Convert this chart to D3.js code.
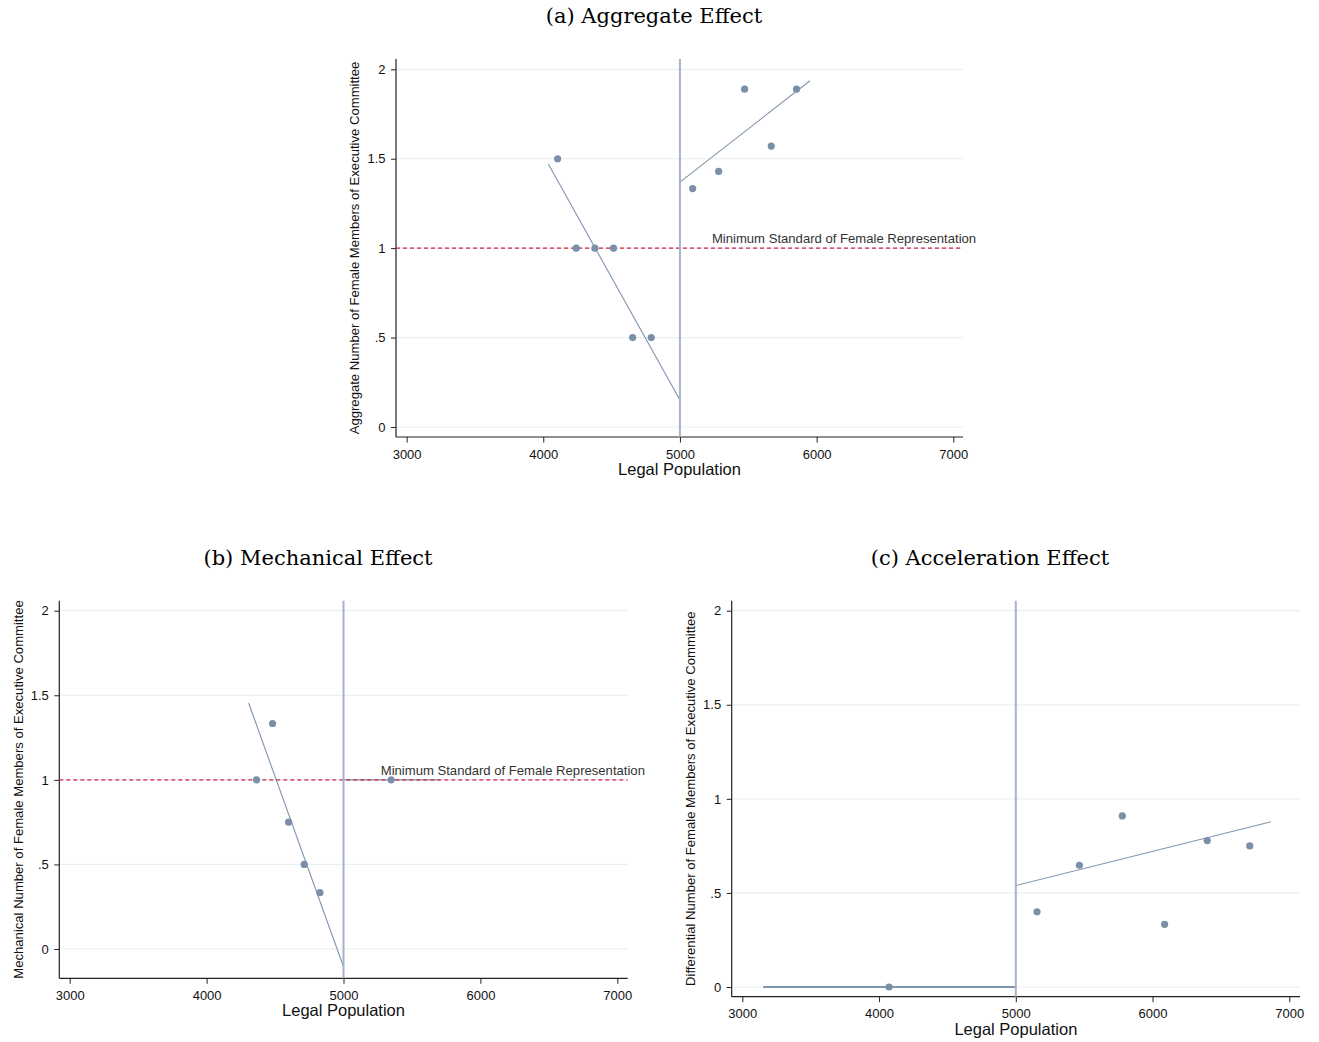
<!DOCTYPE html>
<html><head><meta charset="utf-8">
<script src="https://cdn.jsdelivr.net/npm/d3@7"></script>
<style>body{margin:0;background:#fff}svg{display:block}</style>
</head><body>
<svg id="c" width="1319" height="1042"></svg>
<script>
// ---------- DATA ----------
const xTicks = [3000, 4000, 5000, 6000, 7000];
const yTicks = [0, 0.5, 1, 1.5, 2];
const yTickLabels = ["0", ".5", "1", "1.5", "2"];
const threshold = 5000;
const minStandard = 1;
const refLabel = "Minimum Standard of Female Representation";

// Panel (a) Aggregate
const aggPop = [4105, 4241, 4378, 4514, 4654, 4790, 5093, 5283, 5473, 5668, 5853];
const aggVal = [1.5, 1, 1, 1, 0.5, 0.5, 1.333, 1.429, 1.889, 1.571, 1.889];
const aggFitLeft = [[4037, 1.47], [5000, 0.151]];
const aggFitRight = [[5000, 1.369], [5951, 1.936]];

// Panel (b) Mechanical
const mechPop = [4365, 4482, 4599, 4713, 4828, 5348];
const mechVal = [1, 1.333, 0.75, 0.5, 0.333, 1];
const mechFitLeft = [[4307, 1.454], [5000, -0.105]];
const mechFitRight = [[5000, 1], [5706, 1]];

// Panel (c) Acceleration
const accPop = [4073, 5155, 5465, 5779, 6088, 6400, 6711];
const accVal = [0, 0.40, 0.647, 0.909, 0.333, 0.778, 0.75];
const accFitLeft = [[3152, 0], [5000, 0]];
const accFitRight = [[5000, 0.539], [6866, 0.878]];

const titles = ["(a) Aggregate Effect", "(b) Mechanical Effect", "(c) Acceleration Effect"];
const yLabels = [
  "Aggregate Number of Female Members of Executive Committee",
  "Mechanical Number of Female Members of Executive Committee",
  "Differential Number of Female Members of Executive Committee"
];
const xLabel = "Legal Population";

// ---------- LAYOUT ----------
const panels = [
  {pop: aggPop, val: aggVal, fits: [aggFitLeft, aggFitRight], title: titles[0], ylab: yLabels[0],
   frame: {l: 396, r: 963, t: 59, b: 437}, xr: [406.6, 953.3], yr: [427, 69.3],
   titlePos: [654, 23], ylabX: 354, ylabSize: 13.1, refLabel: true, labelAt: [5234, 1]},
  {pop: mechPop, val: mechVal, fits: [mechFitLeft, mechFitRight], title: titles[1], ylab: yLabels[1],
   frame: {l: 59.3, r: 627.7, t: 600.7, b: 978.3}, xr: [69.7, 617.3], yr: [949, 610.7],
   titlePos: [318, 565], ylabX: 18, ylabSize: 13.1, refLabel: true, labelAt: [5272, 1]},
  {pop: accPop, val: accVal, fits: [accFitLeft, accFitRight], title: titles[2], ylab: yLabels[2],
   frame: {l: 731.7, r: 1300, t: 600.7, b: 996.7}, xr: [742.3, 1289.3], yr: [987, 610.7],
   titlePos: [990, 565], ylabX: 690, ylabSize: 13.1, refLabel: false}
];

const svg = d3.select("#c");
const sans = "'Liberation Sans', Arial, Helvetica, sans-serif";
const serif = "'DejaVu Serif', 'Liberation Serif', serif";
const markColor = "#7b8fa8";
const fitColor = "#7f94ad";
const vColor = "#a5b4c6";
const gridColor = "#e9f0f1";
const red = "#d6204b";

panels.forEach((p, pi) => {
  const g = svg.append("g");
  const f = p.frame;
  const x = d3.scaleLinear().domain([3000, 7000]).range(p.xr);
  const y = d3.scaleLinear().domain([0, 2]).range(p.yr);

  // title
  g.append("text").attr("x", p.titlePos[0]).attr("y", p.titlePos[1])
    .attr("text-anchor", "middle").attr("font-family", serif).attr("font-size", 21)
    .attr("fill", "#000").text(p.title);

  // gridlines
  g.selectAll(".grid").data(yTicks).enter().append("line")
    .attr("x1", f.l).attr("x2", f.r).attr("y1", d => y(d)).attr("y2", d => y(d))
    .attr("stroke", gridColor).attr("stroke-width", 1.2);

  // y axis
  const yAxis = d3.axisLeft(y).tickValues(yTicks).tickFormat((d, i) => yTickLabels[i])
    .tickSize(5).tickPadding(5.5);
  const ya = g.append("g").attr("transform", `translate(${f.l},0)`).call(yAxis);
  ya.select(".domain").remove();
  ya.selectAll("text").attr("font-family", sans).attr("font-size", 13).attr("fill", "#111");
  ya.selectAll("line").attr("stroke", "#222");
  g.append("line").attr("x1", f.l).attr("x2", f.l).attr("y1", f.t).attr("y2", f.b)
    .attr("stroke", "#222").attr("stroke-width", 1.2);

  // x axis
  const xAxis = d3.axisBottom(x).tickValues(xTicks).tickFormat(d3.format("d"))
    .tickSize(5.5).tickPadding(7);
  const xa = g.append("g").attr("transform", `translate(0,${f.b})`).call(xAxis);
  xa.select(".domain").remove();
  xa.selectAll("text").attr("font-family", sans).attr("font-size", 13).attr("fill", "#111");
  xa.selectAll("line").attr("stroke", "#222");
  g.append("line").attr("x1", f.l).attr("x2", f.r).attr("y1", f.b).attr("y2", f.b)
    .attr("stroke", "#222").attr("stroke-width", 1.2);

  // axis titles
  g.append("text").attr("x", (f.l + f.r) / 2).attr("y", f.b + 38)
    .attr("text-anchor", "middle").attr("font-family", sans).attr("font-size", 16.5)
    .attr("fill", "#111").text(xLabel);
  g.append("text").attr("transform", `translate(${p.ylabX},${(f.t + f.b) / 2}) rotate(-90)`)
    .attr("text-anchor", "middle").attr("dy", "0.35em").attr("font-family", sans).attr("font-size", p.ylabSize)
    .attr("fill", "#111").text(p.ylab);

  // fit lines
  const line = d3.line().x(d => x(d[0])).y(d => y(d[1]));
  p.fits.forEach(fit => {
    g.append("path").attr("d", line(fit)).attr("fill", "none")
      .attr("stroke", fitColor).attr("stroke-width", pi === 2 && fit[0][1] === 0 && fit[1][1] === 0 ? 2 : 1.1);
  });

  // reference line
  if (p.refLabel) {
    g.append("line").attr("x1", f.l).attr("x2", f.r).attr("y1", y(minStandard)).attr("y2", y(minStandard))
      .attr("stroke", red).attr("stroke-width", 1.3).attr("stroke-dasharray", "4,3");
    g.append("text").attr("x", x(p.labelAt[0])).attr("y", y(p.labelAt[1]) - 5)
      .attr("font-family", sans).attr("font-size", 13.1).attr("fill", "#333").text(refLabel);
  }

  // vertical threshold
  g.append("line").attr("x1", x(threshold)).attr("x2", x(threshold)).attr("y1", f.t).attr("y2", f.b)
    .attr("stroke", vColor).attr("stroke-width", 2);

  // points
  g.selectAll(".pt").data(p.pop).enter().append("circle")
    .attr("cx", d => x(d)).attr("cy", (d, i) => y(p.val[i])).attr("r", 3.6)
    .attr("fill", markColor);
});
</script>
</body></html>
